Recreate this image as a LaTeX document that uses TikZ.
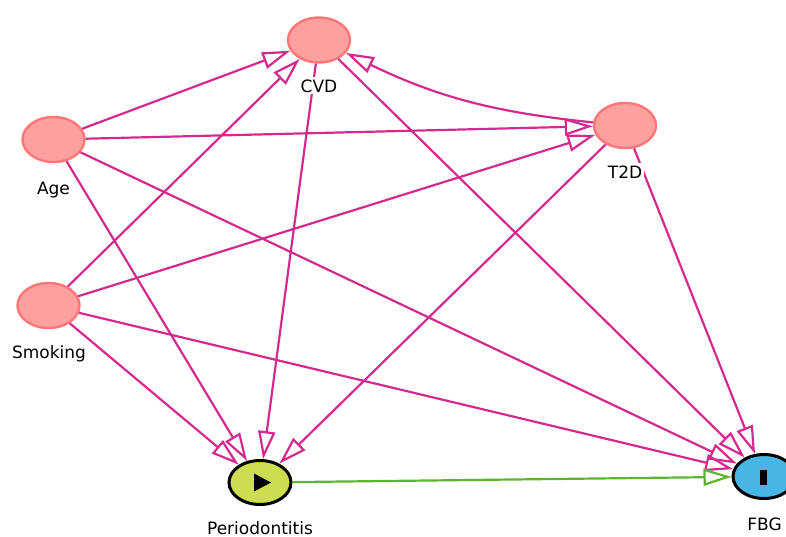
\documentclass[tikz,border=0pt]{standalone}
\usepackage{fontspec}
\setmainfont{DejaVu Sans}
\usetikzlibrary{arrows.meta,shapes.geometric}
\definecolor{edgemag}{RGB}{212,42,142}
\definecolor{edgegreen}{RGB}{92,180,50}
\definecolor{pinkfill}{RGB}{255,160,160}
\definecolor{pinkline}{RGB}{255,118,118}
\definecolor{expfill}{RGB}{204,222,80}
\definecolor{outfill}{RGB}{72,182,228}
\begin{document}
\begin{tikzpicture}[x=1pt,y=-1pt,
  anc/.style={ellipse,draw=pinkline,fill=pinkfill,line width=2.4pt,minimum width=62pt,minimum height=45pt,inner sep=0pt},
  expnode/.style={ellipse,draw=black,fill=expfill,line width=3pt,minimum width=62pt,minimum height=44pt,inner sep=0pt},
  outnode/.style={ellipse,draw=black,fill=outfill,line width=3pt,minimum width=62pt,minimum height=44pt,inner sep=0pt},
  lbl/.style={fill=white,inner sep=2pt,anchor=base,font=\fontsize{17}{19}\selectfont},
  biasedge/.style={draw=edgemag,line width=2.2pt,-{Triangle[open,length=28pt,width=17pt,line width=2.2pt]}},
  causaledge/.style={draw=edgegreen,line width=2.2pt,-{Triangle[open,length=28pt,width=17pt,line width=2.2pt]}}]
\useasboundingbox (0,0) rectangle (786,536);
% nodes
\node[anc] (cvd) at (319,40) {};
\node[anc] (age) at (53.5,139.5) {};
\node[anc] (t2d) at (625,125.5) {};
\node[anc] (smk) at (48.5,305.5) {};
\node[expnode] (per) at (260,482.5) {};
\node[outnode] (fbg) at (764,476.5) {};
% edges
\draw[biasedge] (age) -- (cvd);
\draw[biasedge] (age) -- (t2d);
\draw[biasedge] (age) -- (per);
\draw[biasedge] (age) -- (fbg);
\draw[biasedge] (smk) -- (cvd);
\draw[biasedge] (smk) -- (t2d);
\draw[biasedge] (smk) -- (per);
\draw[biasedge] (smk) -- (fbg);
\draw[biasedge] (cvd) -- (per);
\draw[biasedge] (cvd) -- (fbg);
\draw[biasedge] (t2d) to[bend left=10] (cvd);
\draw[biasedge] (t2d) -- (per);
\draw[biasedge] (t2d) -- (fbg);
\draw[causaledge] (per) -- (fbg);
% symbols
\fill[black] (254,473.5) -- (254,491.5) -- (271,482.5) -- cycle;
\fill[black] (760,470) rectangle (767,485);
% labels
\node[lbl] (lcvd) at (319,92) {CVD};
\node[lbl] (lage) at (53.5,194) {Age};
\node[lbl] (lt2d) at (625,178) {T2D};
\node[lbl] (lsmk) at (49,358) {Smoking};
\node[lbl,inner ysep=1pt] (lper) at (260,534.5) {Periodontitis};
\node[lbl] (lfbg) at (764.5,530) {FBG};
\end{tikzpicture}
\end{document}
